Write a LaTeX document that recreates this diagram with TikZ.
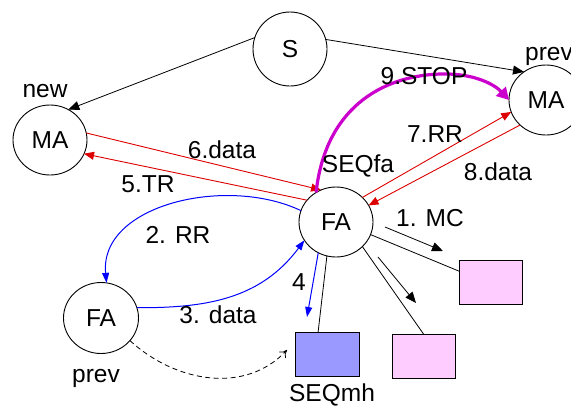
\documentclass[tikz,border=0pt]{standalone}
\usepackage{fontspec}
\setmainfont{Liberation Sans}
\usetikzlibrary{arrows.meta,shapes.geometric,calc}
\definecolor{msgred}{HTML}{DD0000}
\definecolor{msgblue}{HTML}{0000FF}
\definecolor{stopmag}{HTML}{CC00CC}
\definecolor{seqfill}{HTML}{9999FF}
\definecolor{pinkfill}{HTML}{FFCCFF}
\begin{document}
\begin{tikzpicture}[x=1pt,y=-1pt,
  font=\fontsize{24.5}{29}\selectfont,
  agent/.style={ellipse,draw,line width=0.9pt,inner sep=0pt,outer sep=0pt,
    minimum width=74pt,minimum height=70pt},
  box/.style={rectangle,draw,line width=0.9pt,inner sep=0pt,outer sep=0pt,
    minimum width=63pt,minimum height=44pt},
  lbl/.style={inner sep=0pt,anchor=base},
  blk/.style={line width=0.8pt,-{Triangle[length=11pt,width=9pt]}},
  redmsg/.style={draw=msgred,line width=0.9pt,-{Triangle[length=10pt,width=8pt]},msgred},
  bluemsg/.style={draw=msgblue,line width=1pt,-{Triangle[length=10pt,width=7pt]},msgblue},
  stopmsg/.style={draw=stopmag,line width=3.2pt,-{Triangle[length=12pt,width=13pt]},stopmag},
  plain/.style={line width=0.8pt}]
\useasboundingbox (0,0) rectangle (571,405);

% agents
\node[agent,minimum height=74pt] (S) at (290,49) {S};
\node[agent] (MAn) at (50,140) {MA};
\node[agent] (MAp) at (546,100) {MA};
\node[agent] (FA) at (336,222) {FA};
\node[agent,minimum width=75pt,minimum height=71pt] (FAp) at (101,318) {FA};

% sequences
\node[box,fill=seqfill,minimum width=64pt] (mh) at (327,354) {};
\node[box,fill=pinkfill] (pmid) at (423.5,356) {};
\node[box,fill=pinkfill] (prt) at (490.5,282) {};

% free ends of the side arrows
\coordinate (mcA) at (385,227);
\coordinate (mcB) at (443,251);
\coordinate (m2A) at (378,257);
\coordinate (m2B) at (416,303);
\coordinate (fourB) at (307,317);
\coordinate (dtip) at (287,350);

% creation by S
\draw[blk] (S.162) -- (MAn.59);
\draw[blk] (S.15) -- (MAp.128);

% links from FA to its sequences
\draw[plain] (FA.255) -- (mh.112);
\draw[plain] (FA.317) -- (pmid.north);
\draw[plain] (FA.340) -- (prt.161);
\draw[blk] (mcA) -- (mcB);
\draw[blk] (m2A) -- (m2B);

% messages with the agents
\draw[redmsg] (MAn.11) -- (FA.115);
\draw[redmsg] (FA.143) -- (MAn.338);
\draw[redmsg] (FA.43) -- (MAp.199);
\draw[redmsg] (MAp.224) -- (FA.27);

% exchange with the previous FA
\draw[bluemsg] (FA.162) .. controls (226,175) and (99,205) .. (FAp.81);
\draw[bluemsg] (FAp.16) .. controls (204,308) and (260,300) .. (FA.210);
\draw[bluemsg] (FA.240) -- (fourB);

% handover to SEQmh
\draw[line width=0.8pt,dash pattern=on 5pt off 3.5pt,-{To[length=7pt,width=9pt]}]
  (FAp.322) .. controls (175,382) and (245,395) .. (dtip);

% stop
\draw[stopmsg] (FA.124) .. controls (325,110) and (380,76) .. (440,74)
  .. controls (475,73) and (495,85) .. (MAp.180);

% labels
\node[lbl] (tnew) at (45,97) {new};
\node[lbl,anchor=base west] (tprev1) at (525,60) {prev};
\node[lbl] (t6) at (222,158) {6.data};
\node[lbl] (t5) at (148,192) {5.TR};
\node[lbl] (tfa) at (358,172) {SEQfa};
\node[lbl] (t9) at (424,84) {9.STOP};
\node[lbl] (t7) at (435,142) {7.RR};
\node[lbl] (t8) at (498,180) {8.data};
\node[lbl] (t1) at (430,226) {1. MC};
\node[lbl] (t4) at (299,290) {4};
\node[lbl] (tmh) at (332,401) {SEQmh};
\node[lbl] (t2) at (178,243) {2. RR};
\node[lbl] (t3) at (218,323) {3. data};
\node[lbl] (tprev2) at (96,382) {prev};
\end{tikzpicture}
\end{document}
